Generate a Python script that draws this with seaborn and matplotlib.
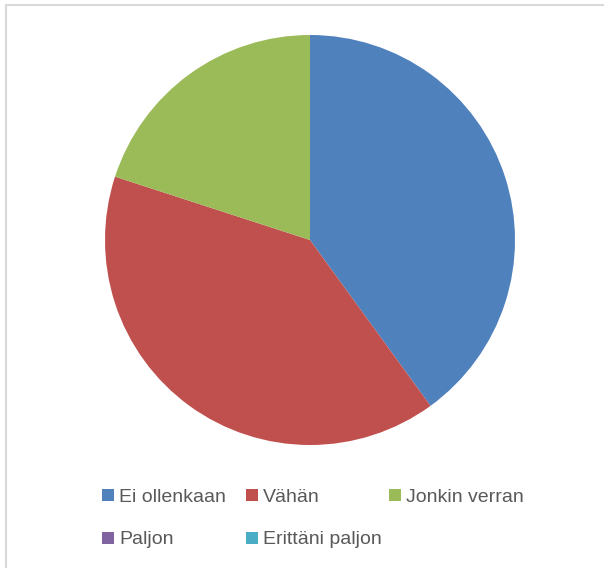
"""Pie chart of answer distribution with a Finnish legend."""

import matplotlib
matplotlib.use("Agg")
import matplotlib.pyplot as plt
from matplotlib.patches import Rectangle
import seaborn as sns

CATEGORIES = ["Ei ollenkaan", "Vähän", "Jonkin verran", "Paljon", "Erittäni paljon"]
COUNTS = [2, 2, 1, 0, 0]
COLORS = ["#4F81BD", "#C0504D", "#9BBB59", "#8064A2", "#4BACC6"]
TEXT_COLOR = "#595959"

W, H = 604, 568


def main() -> None:
    sns.set_theme(style="white")
    plt.rcParams["font.family"] = ["Liberation Sans", "DejaVu Sans"]
    palette = sns.color_palette(COLORS)

    fig = plt.figure(figsize=(W / 100, H / 100), dpi=100)
    fig.patch.set_facecolor("white")

    # chart area border (open at right and bottom edges)
    fig.patches.append(
        Rectangle((5.5 / W, -0.1), 1.2, 1 - 5.5 / H + 0.1, transform=fig.transFigure,
                  fill=False, edgecolor="#D9D9D9", linewidth=1.5)
    )

    # pie area: center (310, 240), radius 205 px
    cx, cy, r = 310, 240, 205
    ax = fig.add_axes([(cx - r) / W, 1 - (cy + r) / H, 2 * r / W, 2 * r / H])
    ax.pie(COUNTS, colors=palette, startangle=90, counterclock=False, radius=1.0,
           wedgeprops={"linewidth": 0})
    ax.set_xlim(-1, 1)
    ax.set_ylim(-1, 1)
    ax.set_aspect("equal")
    ax.axis("off")

    # legend laid out like the original, 3 columns
    col_x = [102, 246, 389]
    row_y = [495, 538]
    box = 12
    for i, (label, color) in enumerate(zip(CATEGORIES, palette)):
        x = col_x[i % 3]
        y = row_y[i // 3]
        fig.patches.append(
            Rectangle((x / W, 1 - (y + box / 2) / H), box / W, box / H,
                      transform=fig.transFigure, facecolor=color, edgecolor="none")
        )
        fig.text((x + box + 5) / W, 1 - y / H, label, fontsize=14, color=TEXT_COLOR,
                 ha="left", va="center_baseline")

    fig.savefig("out.png", dpi=100)
    plt.close(fig)


if __name__ == "__main__":
    main()
